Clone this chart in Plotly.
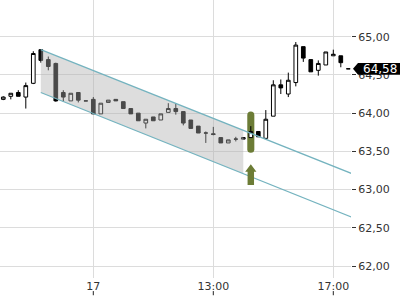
import numpy as np
import plotly.graph_objects as go

# ---- data -------------------------------------------------------------
times = [
    "16.14:30", "16.14:45", "16.15:00", "16.15:15", "16.15:30", "16.15:45",
    "16.16:00", "16.16:15", "16.16:30", "16.16:45", "16.17:00", "16.17:15",
    "17.09:00", "17.09:15", "17.09:30", "17.09:45", "17.10:00", "17.10:15",
    "17.10:30", "17.10:45", "17.11:00", "17.11:15", "17.11:30", "17.11:45",
    "17.12:00", "17.12:15", "17.12:30", "17.12:45", "17.13:00", "17.13:15",
    "17.13:30", "17.13:45", "17.14:00", "17.14:15", "17.14:30", "17.14:45",
    "17.15:00", "17.15:15", "17.15:30", "17.15:45", "17.16:00", "17.16:15",
    "17.16:30", "17.16:45", "17.17:00", "17.17:15", "17.17:30",
]
open_ = [64.18, 64.22, 64.27, 64.21, 64.39, 64.83, 64.70, 64.65, 64.27, 64.16,
         64.27, 64.16, 64.18, 63.99, 64.14, 64.18, 64.15, 64.06, 64.00, 63.87,
         63.95, 63.91, 64.01, 64.06, 64.02, 63.91, 63.83, 63.74, 63.73, 63.68,
         63.61, 63.66, 63.66, 63.68, 63.76, 63.67, 63.96, 64.37, 64.25, 64.40,
         64.87, 64.70, 64.56, 64.63, 64.75, 64.75, 64.58]
high = [64.22, 64.26, 64.30, 64.40, 64.81, 64.83, 64.74, 64.66, 64.30, 64.26,
        64.27, 64.16, 64.21, 64.13, 64.17, 64.18, 64.15, 64.06, 64.00, 63.92,
        63.95, 63.99, 64.13, 64.13, 64.02, 63.91, 63.83, 63.76, 63.82, 63.68,
        63.65, 63.69, 63.68, 63.83, 63.76, 64.04, 64.43, 64.44, 64.53, 64.93,
        64.87, 64.70, 64.69, 64.80, 64.83, 64.75, 64.58]
low = [64.17, 64.18, 64.22, 64.06, 64.38, 64.66, 64.56, 64.15, 64.15, 64.16,
       64.14, 64.16, 63.99, 63.99, 64.14, 64.16, 64.06, 63.99, 63.90, 63.80,
       63.90, 63.91, 64.01, 63.98, 63.84, 63.80, 63.74, 63.61, 63.71, 63.61,
       63.61, 63.63, 63.66, 63.68, 63.69, 63.67, 63.96, 64.25, 64.21, 64.35,
       64.67, 64.54, 64.49, 64.63, 64.75, 64.60, 64.58]
close = [64.21, 64.26, 64.22, 64.36, 64.78, 64.69, 64.61, 64.16, 64.21, 64.26,
         64.17, 64.16, 63.99, 64.13, 64.17, 64.16, 64.06, 63.99, 63.90, 63.92,
         63.90, 63.99, 64.06, 64.02, 63.87, 63.80, 63.74, 63.74, 63.72, 63.61,
         63.65, 63.66, 63.68, 63.76, 63.69, 63.92, 64.37, 64.33, 64.43, 64.89,
         64.72, 64.54, 64.65, 64.80, 64.77, 64.66, 64.58]

tick_times = ["17.09:00", "17.13:00", "17.17:00"]
tick_labels = ["17", "13:00", "17:00"]
y_ticks = [62.0, 62.5, 63.0, 63.5, 64.0, 64.5, 65.0]

# trend channel (index positions on the time axis, prices)
channel_x = [5.0, 46.45]
channel_upper = [64.83, 63.21]
channel_lower = [64.27, 62.64]
shade_end = "17.14:00"

# breakout signal
signal_time = "17.14:15"
signal_oval = [63.48, 64.02]
signal_arrow = [63.06, 63.33]

# ---- figure -----------------------------------------------------------
x = list(range(len(times)))
tickvals = [times.index(t) for t in tick_times]
xr = [-0.44, 46.36]
yr = [61.843, 65.48]

fig = go.Figure()

# shaded channel part
se = times.index(shade_end)
u_end = float(np.interp(se, channel_x, channel_upper))
l_end = float(np.interp(se, channel_x, channel_lower))
fig.add_trace(go.Scatter(
    x=[channel_x[0], se, se, channel_x[0], channel_x[0]],
    y=[channel_upper[0], u_end, l_end, channel_lower[0], channel_upper[0]],
    fill="toself", fillcolor="rgba(175,175,175,0.42)", line=dict(width=0),
    mode="lines", hoverinfo="skip", showlegend=False))

for ys in (channel_upper, channel_lower):
    fig.add_trace(go.Scatter(x=channel_x, y=ys, mode="lines",
                             line=dict(color="#74b3bf", width=1.2),
                             hoverinfo="skip", showlegend=False))

# signal oval (behind candles)
sx = times.index(signal_time)
hw, ry = 0.47, 0.046
o0, o1 = signal_oval
oval_path = (f"M {sx-hw},{o1-ry} Q {sx-hw},{o1} {sx},{o1} Q {sx+hw},{o1} {sx+hw},{o1-ry} "
             f"L {sx+hw},{o0+ry} Q {sx+hw},{o0} {sx},{o0} Q {sx-hw},{o0} {sx-hw},{o0+ry} Z")
fig.add_shape(type="path", path=oval_path, xref="x", yref="y",
              fillcolor="#6c7c36", line=dict(width=0), layer="between")

a0, a1 = signal_arrow
ab = a1 - 0.097
arrow_path = (f"M {sx},{a1} L {sx+0.75},{ab} L {sx+0.43},{ab} L {sx+0.43},{a0} "
              f"L {sx-0.43},{a0} L {sx-0.43},{ab} L {sx-0.75},{ab} Z")
fig.add_shape(type="path", path=arrow_path, xref="x", yref="y",
              fillcolor="#6c7c36", line=dict(width=0), layer="above")

fig.add_trace(go.Candlestick(
    x=x, open=open_, high=high, low=low, close=close,
    increasing=dict(fillcolor="#ffffff", line=dict(color="#000000", width=1)),
    decreasing=dict(fillcolor="#000000", line=dict(color="#000000", width=1)),
    whiskerwidth=0, showlegend=False, hoverinfo="skip"))

# x tick marks (drawn under the labels, as in the reference)
for tv in tickvals:
    fig.add_shape(type="line", xref="x", yref="paper", x0=tv, x1=tv,
                  y0=-0.047, y1=-0.062, line=dict(color="#222", width=1))

# last price label
last = close[-1]
h = 0.077
lbl_path = (f"M 1.0057,{last} L 1.02,{last+h} L 1.16,{last+h} L 1.16,{last-h} "
            f"L 1.02,{last-h} Z")
fig.add_shape(type="path", path=lbl_path, xref="paper", yref="y",
              fillcolor="#000000", line=dict(width=0), layer="above")
fig.add_annotation(x=1.082, y=last, xref="paper", yref="y",
                   text=f"{last:.2f}".replace(".", ","), showarrow=False,
                   font=dict(family="DejaVu Sans", size=12, color="#ffffff"),
                   xanchor="center", yanchor="middle")

fig.update_layout(
    width=400, height=300,
    margin=dict(l=0, r=49, t=0, b=22),
    paper_bgcolor="#ffffff", plot_bgcolor="#ffffff",
    separators=",.",
    font=dict(family="DejaVu Sans", size=11, color="#333333"),
    showlegend=False,
)
fig.update_xaxes(range=xr, rangeslider_visible=False, tickvals=tickvals,
                 ticktext=tick_labels, ticks="", showgrid=True,
                 gridcolor="#dcdcdc", gridwidth=1, zeroline=False,
                 showline=False, tickfont=dict(size=11, color="#333"))
fig.update_yaxes(range=yr, side="right", tickvals=y_ticks, tickformat=".2f",
                 ticks="outside", ticklen=4, tickcolor="#333", tickwidth=1,
                 showgrid=True, gridcolor="#dcdcdc", gridwidth=1,
                 zeroline=False, showline=False,
                 tickfont=dict(size=11, color="#333"))

fig.write_html("out.html")
